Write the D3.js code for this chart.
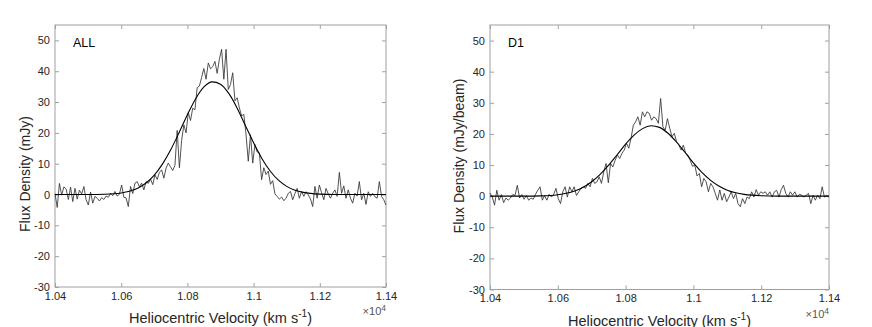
<!DOCTYPE html>
<html>
<head>
<meta charset="utf-8">
<script src="https://cdn.jsdelivr.net/npm/d3@7"></script>
<style>
  body { margin: 0; background: #fff; }
  svg { display: block; }
</style>
</head>
<body>
<div id="vis"></div>
<script>
// spectra: 150 channels from 1.04e4 to 1.14e4 km/s
var chanStart = 10400, chanEnd = 11400;

var fluxAll = [
  0.3, -4.2, 3.6, -0.2, 2.5, 1.8, -1.6, 2.4, -2.3, 2.0,
  -1.5, 1.4, 0.2, 2.6, -1.7, -3.4, 0.8, -2.8, -0.6, -1.2,
  -2.1, -1.0, -1.6, -0.5, -0.9, 0.4, -0.4, 1.0, -0.5, 0.1,
  3.1, -0.9, -1.1, -3.9, 2.6, 0.3, 3.7, 4.2, 2.5, 3.7,
  1.5, 4.2, 3.6, 5.0, 3.2, 6.4, 4.9, 7.2, 8.0, 5.3,
  8.6, 10.2, 9.0, 7.8, 9.5, 20.8, 8.7, 17.5, 22.6, 20.0,
  26.6, 24.0, 28.0, 27.5, 34.7, 35.2, 38.0, 40.9, 37.4, 42.7,
  40.8, 41.5, 43.2, 39.3, 43.9, 47.1, 37.4, 47.1, 34.1, 35.7,
  39.5, 30.4, 31.4, 28.1, 25.5, 26.0, 19.4, 10.8, 19.4, 10.2,
  16.2, 13.8, 13.5, 4.8, 8.7, 6.5, 7.6, 3.3, 4.5, 0.2,
  -0.6, -1.5, -0.8, -2.0, -1.2, 0.4, 1.0, -1.7, 0.3, 2.0,
  -1.2, 1.0, -0.6, 0.9, -0.1, -1.4, -3.9, 2.6, -1.2, 3.1,
  0.6, -1.7, 2.0, 0.2, -1.2, 0.4, 1.5, -0.6, 7.2, 0.4,
  2.8, -1.2, 1.5, -1.2, -2.8, 0.4, -0.5, 4.2, -1.7, 0.4,
  -3.2, 0.9, -0.6, 0.4, -0.7, -1.2, 4.2, -0.6, -1.7, -3.4
];

var fluxD1 = [
  1.0, -0.3, -2.9, 1.9, -1.3, 0.5, -2.1, -0.6, -1.3, -0.6,
  0.5, 0.2, 3.5, -0.6, 0.5, -1.0, 0.2, -1.3, -0.6, -1.0,
  0.6, 1.9, 3.0, -1.3, 0.2, -1.3, 0.6, -0.3, 0.6, 2.5,
  -0.8, -2.4, 1.4, 3.0, -0.3, 3.0, 1.4, 3.0, 0.2, 1.4,
  2.5, 3.0, 2.5, 4.1, 3.0, 5.7, 4.1, 4.6, 6.2, 4.1,
  7.8, 10.5, 4.3, 10.5, 9.4, 11.5, 13.2, 12.1, 13.8, 14.8,
  17.0, 15.4, 18.6, 22.8, 23.9, 25.5, 22.8, 27.1, 25.5, 27.1,
  26.6, 24.4, 25.5, 24.9, 23.4, 31.4, 22.3, 21.2, 24.9, 21.8,
  19.1, 20.2, 17.5, 16.4, 14.8, 16.4, 13.8, 13.2, 11.5, 9.6,
  10.0, 6.5, 7.3, 3.0, 5.7, 4.6, 1.4, 4.1, 3.0, 0.9,
  -1.3, 2.0, -1.3, 0.9, -1.8, -0.3, 1.4, -0.8, 0.9, -2.4,
  -3.4, -0.8, -2.4, -0.3, -0.8, 1.4, -0.3, 2.1, 0.3, 1.4,
  0.9, 1.4, 0.3, 1.4, -0.3, 1.4, 1.9, -0.3, 2.1, 3.5,
  0.9, -0.3, 1.4, 0.3, 1.4, -0.3, 0.6, 0.3, -0.3, 0.3,
  0.9, -2.4, 0.3, -1.3, 0.3, -0.8, 3.0, -0.3, 0.3, -0.3
];

// gaussian fits
var fitVel = [10400, 10500, 10550, 10600, 10625, 10650, 10675, 10700, 10725, 10750,
  10775, 10800, 10825, 10850, 10875, 10900, 10925, 10950, 10975, 11000,
  11025, 11050, 11075, 11100, 11125, 11150, 11200, 11250, 11300, 11400];
var fitAll = [0, 0.01, 0.1, 0.52, 1.07, 2.07, 3.74, 6.31, 9.94, 14.6,
  20.1, 25.9, 31.1, 34.9, 36.55, 35.8, 32.8, 28.1, 22.4, 16.8,
  11.7, 7.63, 4.65, 2.65, 1.41, 0.70, 0.14, 0.02, 0, 0];
var fitD1 = [0, 0.02, 0.10, 0.47, 0.92, 1.68, 2.88, 4.64, 7.01, 9.96,
  13.3, 16.7, 19.6, 21.7, 22.6, 22.1, 20.2, 17.4, 14.1, 10.7,
  7.67, 5.15, 3.25, 1.92, 1.07, 0.56, 0.13, 0.02, 0, 0];

var xTicks = [10400, 10600, 10800, 11000, 11200, 11400];
var yTicks = [-30, -20, -10, 0, 10, 20, 30, 40, 50];
var yDomain = [-30, 55];

var panelNames = ["ALL", "D1"];
var yLabels = ["Flux Density (mJy)", "Flux Density (mJy/beam)"];

// layout of the two axes boxes
var panels = [
  { name: panelNames[0], flux: fluxAll, fit: fitAll, ylabel: yLabels[0],
    left: 55, right: 386, top: 25, bottom: 287, ylabX: 29.5, ylabY: 174 },
  { name: panelNames[1], flux: fluxD1, fit: fitD1, ylabel: yLabels[1],
    left: 490, right: 829, top: 25, bottom: 289.5, ylabX: 464, ylabY: 156 }
];

var font = "'Liberation Sans', Arial, Helvetica, sans-serif";
var boxColor = "#a0a0a0";
var textColor = "#262626";

var svg = d3.select("#vis")
  .append("svg")
    .attr("width", 872)
    .attr("height", 327)
    .style("font-family", font);

panels.forEach(function (p) {
  var n = p.flux.length;
  var step = (chanEnd - chanStart) / (n - 1);
  var spec = p.flux.map(function (f, i) { return { v: chanStart + i * step, f: f }; });
  var fit = p.fit.map(function (f, i) { return { v: fitVel[i], f: f }; });

  var x = d3.scaleLinear().domain([chanStart, chanEnd]).range([p.left, p.right]);
  var y = d3.scaleLinear().domain(yDomain).range([p.bottom, p.top]);

  var g = svg.append("g");

  // box
  g.append("rect")
    .attr("x", p.left).attr("y", p.top)
    .attr("width", p.right - p.left).attr("height", p.bottom - p.top)
    .attr("fill", "none")
    .attr("stroke", boxColor)
    .attr("stroke-width", 1);

  var fmtX = function (d) { return String(+(d / 1e4).toFixed(2)); };
  var fmtY = function (d) { return String(d); };   // plain hyphen, not U+2212

  var styleAxis = function (sel) {
    sel.select(".domain").remove();
    sel.selectAll(".tick line").attr("stroke", boxColor);
    sel.selectAll(".tick text")
      .attr("fill", textColor)
      .style("font-family", font)
      .style("font-size", "11px");
  };

  // bottom + left with labels, top + right mirrored ticks, all pointing in
  g.append("g")
    .attr("transform", "translate(0," + p.bottom + ")")
    .call(d3.axisBottom(x).tickValues(xTicks).tickFormat(fmtX).tickSizeInner(-4).tickSizeOuter(0).tickPadding(5))
    .call(styleAxis);
  g.append("g")
    .attr("transform", "translate(" + p.left + ",0)")
    .call(d3.axisLeft(y).tickValues(yTicks).tickFormat(fmtY).tickSizeInner(-4).tickSizeOuter(0).tickPadding(5))
    .call(styleAxis);
  g.append("g")
    .attr("transform", "translate(0," + p.top + ")")
    .call(d3.axisTop(x).tickValues(xTicks).tickFormat("").tickSizeInner(-4).tickSizeOuter(0))
    .call(styleAxis);
  g.append("g")
    .attr("transform", "translate(" + p.right + ",0)")
    .call(d3.axisRight(y).tickValues(yTicks).tickFormat("").tickSizeInner(-4).tickSizeOuter(0))
    .call(styleAxis);

  // spectrum
  g.append("path")
    .datum(spec)
    .attr("fill", "none")
    .attr("stroke", "#333")
    .attr("stroke-width", 0.85)
    .attr("stroke-linejoin", "round")
    .attr("d", d3.line().x(function (d) { return x(d.v); }).y(function (d) { return y(d.f); }));

  // fit
  g.append("path")
    .datum(fit)
    .attr("fill", "none")
    .attr("stroke", "#000")
    .attr("stroke-width", 1.1)
    .attr("d", d3.line().curve(d3.curveMonotoneX)
      .x(function (d) { return x(d.v); }).y(function (d) { return y(d.f); }));

  // panel name
  g.append("text")
    .attr("x", p.left + 18)
    .attr("y", p.top + 22)
    .attr("fill", "#000")
    .style("font-size", "12.5px")
    .text(p.name);

  // y label
  g.append("text")
    .attr("transform", "translate(" + p.ylabX + "," + p.ylabY + ") rotate(-90)")
    .attr("text-anchor", "middle")
    .attr("fill", textColor)
    .style("font-size", "14px")
    .text(p.ylabel);

  // x label
  var xl = g.append("text")
    .attr("x", (p.left + p.right) / 2)
    .attr("y", p.bottom + 36)
    .attr("text-anchor", "middle")
    .attr("fill", textColor)
    .style("font-size", "14.5px");
  xl.append("tspan").text("Heliocentric Velocity (km s");
  xl.append("tspan").attr("dy", -6).style("font-size", "10px").text("-1");
  xl.append("tspan").attr("dy", 6).text(")");

  // exponent
  var ex = g.append("text")
    .attr("x", p.right)
    .attr("y", p.bottom + 28)
    .attr("text-anchor", "end")
    .attr("fill", "#555")
    .style("font-size", "11px");
  ex.append("tspan").text("\u00d710");
  ex.append("tspan").attr("dy", -4).style("font-size", "8.5px").text("4");
});
</script>
</body>
</html>
